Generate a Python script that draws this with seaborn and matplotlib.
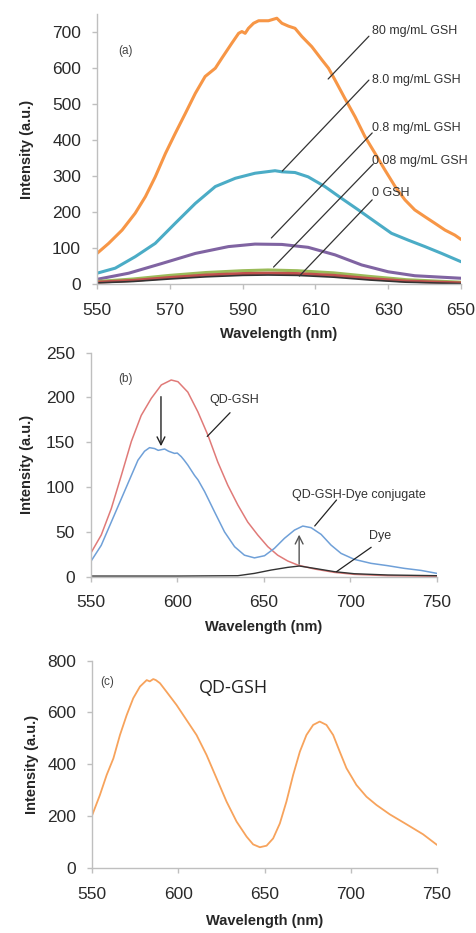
import matplotlib
matplotlib.use("Agg")
import matplotlib.pyplot as plt
import seaborn as sns

sns.set_theme(style="white")
plt.rcParams['font.family'] = ['Liberation Sans', 'DejaVu Sans']

# ---------- panel (a): GSH concentrations ----------
wl_80 = [550, 553.2, 556.9, 560.5, 563.3, 566, 568.8, 571.5, 574.3, 577, 579.7, 582.5, 584.3, 587,
         588.9, 589.8, 590.7, 591.6, 593, 594.4, 597.1, 599.4, 600.8, 602.6, 604.4, 606.3, 609,
         611.8, 613.6, 615.4, 618.1, 620.9, 623.6, 626.4, 629.1, 631.9, 634.6, 637.3, 640.1,
         642.8, 645.6, 648.3, 650]
gsh_80 = [85, 113, 150, 197, 243, 298, 363, 419, 475, 530, 577, 600, 628, 669,
          697, 702, 697, 711, 725, 732, 732, 739, 725, 717, 711, 688, 660,
          623, 600, 567, 516, 465, 410, 363, 317, 271, 234, 206, 187,
          169, 150, 136, 124]

wl_8 = [550, 555, 560.5, 566, 571.5, 577, 582.5, 588, 593.4, 598.9, 600.8, 604.4, 608, 612.6,
        617.2, 621.8, 626.4, 630.9, 635.5, 640.1, 644.7, 650]
gsh_8 = [30, 44, 76, 113, 169, 224, 271, 294, 308, 315, 312, 310, 298, 271,
         238, 206, 173, 141, 122, 104, 85, 62]

wl_08 = [550, 558.7, 567.8, 577, 586.1, 593.4, 600.8, 608, 615.4, 622.7, 630, 637.3, 650]
gsh_08 = [13, 30, 57, 85, 104, 111, 110, 102, 81, 53, 34, 23, 16]

wl_low = [550, 560, 570, 580, 590, 597, 605, 615, 625, 635, 650]
gsh_008 = [7, 14, 24, 32, 37, 39, 37, 31, 21, 12, 5]
gsh_0 = [5, 10, 18, 25, 29, 30, 29, 24, 15, 8, 3]
gsh_blank = [3, 7, 14, 20, 24, 25, 24, 19, 11, 5, 1]

labels_a = ["80 mg/mL GSH", "8.0 mg/mL GSH", "0.8 mg/mL GSH", "0.08 mg/mL GSH", "0 GSH"]

# ---------- panel (b): QD-GSH, conjugate, dye ----------
wl_qd = [550, 556.1, 561.9, 567.7, 573.5, 579.2, 585, 590.8, 596.5, 600.4, 606.1, 611.9, 617.7,
         623.4, 629.2, 635, 640.7, 646.5, 652.3, 658, 663.8, 669.6, 679.2, 690.8, 702.3, 721.5, 750]
qd_gsh = [26, 46.5, 76, 113, 151, 180, 199, 214, 219.5, 217.6, 206, 184, 158,
          128, 102, 80, 61, 46.5, 33.5, 24, 17.5, 13, 8.6, 4.8, 2.6, 1.1, 0.4]

wl_conj = [550, 556.1, 561.9, 567.7, 573.5, 577.3, 581.1, 584, 586.9, 589, 592.7, 595, 598.4, 600,
           602.3, 604, 606.1, 610, 612, 615.8, 621.5, 627.3, 633.1, 638.8, 644.6, 650.4, 656.1,
           661.9, 667.7, 672.5, 677.3, 683.1, 688.8, 694.6, 702.3, 711.9, 721.5, 731.1, 740.8, 750]
conjugate = [16.7, 35, 61, 87, 113, 130, 140, 144, 143, 141, 142.5, 140, 137.6, 138,
             134, 130, 124.6, 113, 108, 95, 72.5, 50, 33.5, 24, 21, 23.4, 31.6,
             42.8, 52, 56.5, 54.7, 47.2, 35.3, 26, 19.3, 14.9, 12.3, 9.3, 7, 3.7]

wl_dye = [550, 600, 635, 644.6, 654.2, 663.8, 670.5, 679.2, 690.8, 702.3, 721.5, 750]
dye = [0.7, 0.7, 1.1, 3.7, 7.4, 10.4, 11.9, 9.3, 5.6, 3.3, 1.9, 1.1]

# ---------- panel (c): QD-GSH ----------
wl_c = [550, 554.6, 558.5, 562.4, 566.2, 570.1, 573.9, 577.8, 581.7, 583.5, 585.5, 587, 589.4,
        593.2, 599, 604.8, 610.6, 616.4, 622.2, 628, 633.8, 639.6, 643.4, 647.3, 651.2, 655,
        658.9, 662.7, 666.6, 670.5, 674.3, 678.2, 682, 685.9, 689.8, 693.6, 697.5, 703.3,
        709.1, 714.9, 722.6, 732.2, 741.9, 750]
qd_c = [202, 282, 359, 423, 513, 590, 655, 700, 725, 720, 729, 725, 713,
        680, 629, 571, 513, 436, 346, 256, 179, 121, 91, 80, 86, 114,
        172, 256, 359, 449, 513, 552, 565, 552, 513, 449, 385, 320,
        275, 243, 207, 169, 130, 89]

W, H = 476, 933
fig = plt.figure(figsize=(W / 100, H / 100), dpi=100)
ax_a = fig.add_axes([0.2038, 0.6956, 0.7647, 0.2891])
ax_b = fig.add_axes([0.1905, 0.3819, 0.7275, 0.2401])
ax_c = fig.add_axes([0.1933, 0.0697, 0.7248, 0.2222])

spine_col = "#bfbfbf"


def style_axes(ax, xlim, ylim, xticks, yticks, ypad):
    ax.set_xlim(*xlim)
    ax.set_ylim(*ylim)
    ax.set_xticks(xticks)
    ax.set_yticks(yticks)
    for s in ["top", "right"]:
        ax.spines[s].set_visible(False)
    for s in ["left", "bottom"]:
        ax.spines[s].set_color(spine_col)
        ax.spines[s].set_linewidth(1.0)
    ax.tick_params(axis="both", which="both", direction="out", length=3.5, width=1,
                   color=spine_col, labelsize=12.5, labelcolor="#2a2a2a",
                   left=True, bottom=True)
    ax.tick_params(axis="x", pad=10)
    ax.tick_params(axis="y", pad=8)
    ax.set_xlabel("Wavelength (nm)", fontsize=10.5, fontweight="bold", labelpad=7)
    ax.set_ylabel("Intensity (a.u.)", fontsize=10.5, fontweight="bold", labelpad=ypad)
    ax.grid(False)


# panel (a)
sns.lineplot(x=wl_80, y=gsh_80, ax=ax_a, color="#f79646", lw=2.2)
sns.lineplot(x=wl_8, y=gsh_8, ax=ax_a, color="#4bacc6", lw=2.2)
sns.lineplot(x=wl_08, y=gsh_08, ax=ax_a, color="#8064a2", lw=2.2)
sns.lineplot(x=wl_low, y=gsh_008, ax=ax_a, color="#9bbb59", lw=2.2)
sns.lineplot(x=wl_low, y=gsh_0, ax=ax_a, color="#c0504d", lw=2.2)
sns.lineplot(x=wl_low, y=gsh_blank, ax=ax_a, color="#333333", lw=1.2)
style_axes(ax_a, (550, 650), (0, 750), [550, 570, 590, 610, 630, 650], range(0, 701, 100), 13)

ax_a.text(555.8, 649, "(a)", fontsize=8.5, color="#444444", va="center")
label_y = [703, 567, 434, 342, 253]
line_ends = [((624.7, 689), (613.5, 570)),
             ((624.7, 567), (600.9, 314)),
             ((625.6, 420), (597.9, 128)),
             ((625.9, 334), (598.5, 47)),
             ((625.6, 234), (605.6, 22))]
for lab, ly, (p0, p1) in zip(labels_a, label_y, line_ends):
    ax_a.text(625.6, ly, lab, fontsize=9, color="#333333", va="center", ha="left")
    ax_a.plot([p0[0], p1[0]], [p0[1], p1[1]], color="#333333", lw=0.9)

# panel (b)
sns.lineplot(x=wl_qd, y=qd_gsh, ax=ax_b, color="#e07a78", lw=1.1)
sns.lineplot(x=wl_conj, y=conjugate, ax=ax_b, color="#6fa0d8", lw=1.1)
sns.lineplot(x=wl_dye, y=dye, ax=ax_b, color="#333333", lw=1.0)
style_axes(ax_b, (550, 750), (0, 250), [550, 600, 650, 700, 750], range(0, 251, 50), 8.5)
ax_b.text(566, 220.5, "(b)", fontsize=8.5, color="#444444", va="center")
ax_b.annotate("", xy=(590.6, 142.5), xytext=(590.6, 204),
              arrowprops=dict(arrowstyle="->", color="#222222", lw=1.0, mutation_scale=14))
ax_b.annotate("", xy=(670.4, 50), xytext=(670.4, 11),
              arrowprops=dict(arrowstyle="->", color="#555555", lw=1.0, mutation_scale=14))
ax_b.text(618.3, 197, "QD-GSH", fontsize=9, color="#333333", va="center")
ax_b.plot([630.5, 617.3], [183, 156.5], color="#222222", lw=0.9)
ax_b.text(666, 91, "QD-GSH-Dye conjugate", fontsize=9, color="#333333", va="center")
ax_b.plot([692, 679.4], [85.6, 56.6], color="#222222", lw=0.9)
ax_b.text(711, 45.8, "Dye", fontsize=9, color="#333333", va="center")
ax_b.plot([712, 692], [32.8, 5.6], color="#222222", lw=0.9)

# panel (c)
sns.lineplot(x=wl_c, y=qd_c, ax=ax_c, color="#f7a35c", lw=1.3)
style_axes(ax_c, (550, 750), (0, 800), [550, 600, 650, 700, 750], range(0, 801, 200), 6)
ax_c.set_xlabel("Wavelength (nm)", fontsize=10.5, fontweight="bold", labelpad=9)
ax_c.text(554.6, 718, "(c)", fontsize=8.5, color="#444444", va="center")
ax_c.text(612, 695, "QD-GSH", fontsize=13, color="#222222", va="center",
          family=["Open Sans", "DejaVu Sans"])

fig.savefig("out.png", dpi=100)
